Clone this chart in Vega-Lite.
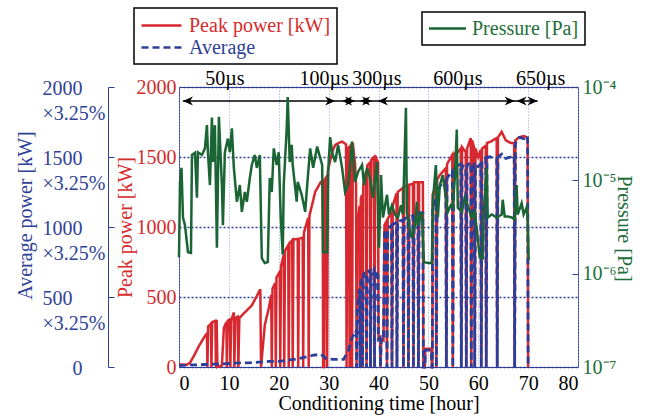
{
"$schema": "https://vega.github.io/schema/vega-lite/v6.json",
"width": 399, "height": 280,
"autosize": {"type": "none"},
"padding": {"left": 179, "top": 87, "right": 67, "bottom": 53},
"config": {
  "font": "Liberation Serif",
  "view": {"stroke": "#2c3e99", "strokeWidth": 1},
  "axis": {"labelFont": "Liberation Serif", "titleFont": "Liberation Serif", "labelFontSize": 20, "titleFontSize": 20, "titleFontWeight": "normal", "labelOverlap": false},
  "legend": {"labelFont": "Liberation Serif", "labelFontSize": 20}
},
"datasets": {
  "peak": [{"t":0,"kw":20},{"t":1.5,"kw":15},{"t":2.2,"kw":30},{"t":3,"kw":80},{"t":4,"kw":150},{"t":5,"kw":210},{"t":5.6,"kw":240},{"t":5.7,"kw":0},{"t":5.85,"kw":290},{"t":6.4,"kw":310},{"t":6.5,"kw":0},{"t":6.65,"kw":320},{"t":7.3,"kw":330},{"t":7.4,"kw":0},{"t":7.55,"kw":335},{"t":7.7,"kw":0},{"t":8.6,"kw":10},{"t":9,"kw":280},{"t":9.5,"kw":320},{"t":9.6,"kw":0},{"t":9.75,"kw":330},{"t":10.2,"kw":340},{"t":10.3,"kw":0},{"t":10.45,"kw":330},{"t":11,"kw":390},{"t":11.1,"kw":0},{"t":11.3,"kw":350},{"t":11.8,"kw":360},{"t":11.9,"kw":0},{"t":12.1,"kw":350},{"t":13.2,"kw":390},{"t":14.6,"kw":440},{"t":15.5,"kw":500},{"t":16.3,"kw":555},{"t":16.45,"kw":0},{"t":17.2,"kw":300},{"t":18,"kw":420},{"t":18.5,"kw":515},{"t":18.6,"kw":0},{"t":18.75,"kw":560},{"t":19.3,"kw":600},{"t":19.4,"kw":0},{"t":19.55,"kw":640},{"t":20.2,"kw":680},{"t":20.3,"kw":0},{"t":20.45,"kw":720},{"t":21,"kw":800},{"t":21.1,"kw":0},{"t":21.25,"kw":830},{"t":21.9,"kw":870},{"t":22,"kw":0},{"t":22.15,"kw":880},{"t":22.7,"kw":905},{"t":22.8,"kw":0},{"t":22.95,"kw":910},{"t":23.8,"kw":915},{"t":23.9,"kw":0},{"t":24.05,"kw":915},{"t":24.8,"kw":925},{"t":24.9,"kw":0},{"t":25.05,"kw":960},{"t":25.9,"kw":1065},{"t":26,"kw":0},{"t":26.15,"kw":1080},{"t":27.3,"kw":1250},{"t":28.4,"kw":1320},{"t":28.8,"kw":1330},{"t":28.9,"kw":0},{"t":29.1,"kw":0},{"t":29.25,"kw":1340},{"t":29.6,"kw":1360},{"t":29.7,"kw":0},{"t":29.85,"kw":1400},{"t":30.7,"kw":1535},{"t":31.3,"kw":1585},{"t":32,"kw":1600},{"t":32.7,"kw":1610},{"t":33.5,"kw":1590},{"t":33.6,"kw":0},{"t":33.75,"kw":1560},{"t":34.1,"kw":1570},{"t":34.2,"kw":0},{"t":34.35,"kw":1580},{"t":34.6,"kw":1590},{"t":34.7,"kw":0},{"t":34.85,"kw":1600},{"t":35.3,"kw":1450},{"t":35.5,"kw":1300},{"t":35.6,"kw":0},{"t":35.75,"kw":1000},{"t":36.2,"kw":1150},{"t":36.3,"kw":0},{"t":36.45,"kw":1200},{"t":36.7,"kw":1230},{"t":36.8,"kw":0},{"t":36.95,"kw":1300},{"t":37.5,"kw":1400},{"t":37.6,"kw":0},{"t":37.75,"kw":1440},{"t":38.3,"kw":1460},{"t":38.4,"kw":0},{"t":38.55,"kw":1480},{"t":39.1,"kw":1500},{"t":39.2,"kw":0},{"t":39.35,"kw":1510},{"t":39.9,"kw":1460},{"t":40,"kw":200},{"t":40.3,"kw":210},{"t":40.4,"kw":0},{"t":40.55,"kw":200},{"t":41,"kw":190},{"t":41.2,"kw":1015},{"t":41.6,"kw":1040},{"t":41.7,"kw":0},{"t":41.85,"kw":1060},{"t":42.6,"kw":1100},{"t":42.7,"kw":0},{"t":42.85,"kw":1150},{"t":43.6,"kw":1240},{"t":43.7,"kw":0},{"t":43.85,"kw":1250},{"t":44.9,"kw":1280},{"t":45,"kw":0},{"t":45.15,"kw":1290},{"t":45.9,"kw":1300},{"t":46,"kw":0},{"t":46.15,"kw":1300},{"t":46.9,"kw":1310},{"t":47,"kw":0},{"t":47.15,"kw":1320},{"t":47.9,"kw":1320},{"t":48,"kw":0},{"t":48.15,"kw":1320},{"t":48.9,"kw":1320},{"t":49,"kw":0},{"t":49.3,"kw":0},{"t":49.4,"kw":130},{"t":50.6,"kw":130},{"t":50.7,"kw":0},{"t":50.8,"kw":0},{"t":50.85,"kw":1230},{"t":51.5,"kw":1300},{"t":51.6,"kw":0},{"t":51.75,"kw":1340},{"t":52.5,"kw":1380},{"t":53.5,"kw":1420},{"t":53.6,"kw":0},{"t":53.75,"kw":1450},{"t":54.8,"kw":1515},{"t":54.9,"kw":0},{"t":55.05,"kw":1520},{"t":55.9,"kw":1535},{"t":56.5,"kw":1560},{"t":56.6,"kw":0},{"t":56.75,"kw":1570},{"t":57.5,"kw":1535},{"t":57.6,"kw":0},{"t":57.75,"kw":1560},{"t":58.5,"kw":1635},{"t":58.6,"kw":0},{"t":58.75,"kw":1620},{"t":59.2,"kw":1565},{"t":59.3,"kw":0},{"t":59.45,"kw":1560},{"t":60,"kw":1500},{"t":60.5,"kw":1550},{"t":60.6,"kw":0},{"t":60.75,"kw":1560},{"t":61.5,"kw":1580},{"t":61.6,"kw":0},{"t":61.75,"kw":1600},{"t":62.5,"kw":1610},{"t":63.7,"kw":1635},{"t":63.8,"kw":0},{"t":63.95,"kw":1640},{"t":64.7,"kw":1680},{"t":65.5,"kw":1620},{"t":66.5,"kw":1600},{"t":67.2,"kw":1600},{"t":67.3,"kw":0},{"t":67.45,"kw":1620},{"t":68.2,"kw":1640},{"t":69.2,"kw":1650},{"t":69.9,"kw":1635},{"t":70,"kw":0}],
  "avg": [{"t":0,"kw":10},{"t":2,"kw":15},{"t":4,"kw":15},{"t":6,"kw":20},{"t":8,"kw":20},{"t":10,"kw":25},{"t":12,"kw":30},{"t":14,"kw":30},{"t":16,"kw":35},{"t":18,"kw":40},{"t":20,"kw":40},{"t":22,"kw":50},{"t":24,"kw":60},{"t":26,"kw":75},{"t":27,"kw":85},{"t":28.5,"kw":90},{"t":29.5,"kw":60},{"t":31,"kw":55},{"t":33,"kw":55},{"t":34,"kw":120},{"t":34.8,"kw":220},{"t":35.5,"kw":260},{"t":35.6,"kw":0},{"t":35.75,"kw":420},{"t":36.2,"kw":560},{"t":36.3,"kw":0},{"t":36.45,"kw":600},{"t":36.7,"kw":640},{"t":36.8,"kw":0},{"t":36.95,"kw":660},{"t":37.5,"kw":680},{"t":37.6,"kw":0},{"t":37.75,"kw":680},{"t":38.3,"kw":690},{"t":38.4,"kw":0},{"t":38.55,"kw":680},{"t":39.1,"kw":700},{"t":39.2,"kw":0},{"t":39.35,"kw":690},{"t":39.9,"kw":660},{"t":40,"kw":200},{"t":40.3,"kw":210},{"t":40.4,"kw":0},{"t":40.55,"kw":200},{"t":41,"kw":190},{"t":41.2,"kw":960},{"t":41.6,"kw":980},{"t":41.7,"kw":0},{"t":41.85,"kw":990},{"t":42.6,"kw":1010},{"t":42.7,"kw":0},{"t":42.85,"kw":1020},{"t":43.6,"kw":1030},{"t":43.7,"kw":0},{"t":43.85,"kw":1040},{"t":44.9,"kw":1050},{"t":45,"kw":0},{"t":45.15,"kw":1060},{"t":45.9,"kw":1070},{"t":46,"kw":0},{"t":46.15,"kw":1070},{"t":46.9,"kw":1080},{"t":47,"kw":0},{"t":47.15,"kw":1090},{"t":47.9,"kw":1100},{"t":48,"kw":0},{"t":48.15,"kw":1100},{"t":48.9,"kw":1100},{"t":49,"kw":0},{"t":49.3,"kw":0},{"t":49.4,"kw":120},{"t":50.6,"kw":120},{"t":50.7,"kw":0},{"t":50.8,"kw":0},{"t":50.85,"kw":1150},{"t":51.5,"kw":1200},{"t":51.6,"kw":0},{"t":51.75,"kw":1250},{"t":52.5,"kw":1300},{"t":53.5,"kw":1330},{"t":53.6,"kw":0},{"t":53.75,"kw":1350},{"t":54.8,"kw":1400},{"t":54.9,"kw":0},{"t":55.05,"kw":1410},{"t":55.9,"kw":1440},{"t":56.5,"kw":1450},{"t":56.6,"kw":0},{"t":56.75,"kw":1440},{"t":57.5,"kw":1430},{"t":57.6,"kw":0},{"t":57.75,"kw":1440},{"t":58.5,"kw":1460},{"t":58.6,"kw":0},{"t":58.75,"kw":1460},{"t":59.2,"kw":1450},{"t":59.3,"kw":0},{"t":59.45,"kw":1440},{"t":60,"kw":1430},{"t":60.5,"kw":1450},{"t":60.6,"kw":0},{"t":60.75,"kw":1470},{"t":61.5,"kw":1490},{"t":61.6,"kw":0},{"t":61.75,"kw":1500},{"t":62.5,"kw":1500},{"t":63.7,"kw":1490},{"t":63.8,"kw":0},{"t":63.95,"kw":1500},{"t":64.7,"kw":1520},{"t":65.5,"kw":1490},{"t":66.5,"kw":1500},{"t":67.2,"kw":1510},{"t":67.3,"kw":0},{"t":67.45,"kw":1600},{"t":68.2,"kw":1640},{"t":69.2,"kw":1630},{"t":69.9,"kw":1650},{"t":70,"kw":0}],
  "pres": [{"t":0,"p":1.5e-6},{"t":0.2,"p":9.6e-6},{"t":0.5,"p":1.36e-5},{"t":0.8,"p":4.0e-6},{"t":1.2,"p":3.3e-6},{"t":1.8,"p":1.7e-6},{"t":2.4,"p":1.67e-6},{"t":2.6,"p":1.87e-5},{"t":3.2,"p":1.97e-5},{"t":3.6,"p":6.5e-6},{"t":3.8,"p":2.0e-5},{"t":4.6,"p":1.87e-5},{"t":5.2,"p":2.2e-5},{"t":5.6,"p":3.9e-5},{"t":5.8,"p":2.0e-5},{"t":6.2,"p":8.9e-6},{"t":6.6,"p":4.7e-5},{"t":6.8,"p":1.57e-5},{"t":7.2,"p":3.9e-5},{"t":7.6,"p":1.9e-6},{"t":8.0,"p":4.8e-5},{"t":8.6,"p":8.9e-6},{"t":8.8,"p":3.3e-6},{"t":9.2,"p":2.0e-5},{"t":9.8,"p":2.8e-5},{"t":10.2,"p":2.0e-5},{"t":10.6,"p":3.6e-5},{"t":11.0,"p":1.36e-5},{"t":11.6,"p":5.9e-6},{"t":12.2,"p":8.9e-6},{"t":12.6,"p":4.6e-6},{"t":13.2,"p":7.5e-6},{"t":13.6,"p":5.9e-6},{"t":14.2,"p":1.06e-5},{"t":14.6,"p":1.46e-5},{"t":15.2,"p":1.87e-5},{"t":15.6,"p":1.36e-5},{"t":16.2,"p":1.87e-5},{"t":16.6,"p":1.47e-6},{"t":17.2,"p":1.3e-6},{"t":17.8,"p":1.33e-6},{"t":18.2,"p":1.06e-5},{"t":18.6,"p":7.5e-6},{"t":19.0,"p":2.2e-5},{"t":19.6,"p":1.46e-5},{"t":20.0,"p":2.0e-5},{"t":20.4,"p":4.0e-6},{"t":20.8,"p":1.6e-6},{"t":21.0,"p":8.9e-6},{"t":21.6,"p":3.6e-5},{"t":21.8,"p":7.8e-5},{"t":22.2,"p":1.57e-5},{"t":22.6,"p":2.4e-5},{"t":22.8,"p":1.46e-5},{"t":23.6,"p":5.9e-6},{"t":23.8,"p":9.6e-6},{"t":24.6,"p":7.0e-6},{"t":25.3,"p":4.6e-6},{"t":25.7,"p":8.9e-6},{"t":26.3,"p":2.2e-5},{"t":26.9,"p":1.36e-5},{"t":27.7,"p":2.3e-5},{"t":28.3,"p":1.74e-5},{"t":28.7,"p":1.46e-5},{"t":28.9,"p":1.7e-6},{"t":29.7,"p":1.7e-6},{"t":29.9,"p":1.23e-5},{"t":30.3,"p":2.9e-5},{"t":30.7,"p":2.0e-5},{"t":31.3,"p":1.57e-5},{"t":31.9,"p":2.4e-5},{"t":32.7,"p":1.36e-5},{"t":33.3,"p":7.5e-6},{"t":33.9,"p":8.9e-6},{"t":34.3,"p":1.46e-5},{"t":34.7,"p":2.6e-5},{"t":35.3,"p":9.6e-6},{"t":35.9,"p":1.23e-5},{"t":36.7,"p":1.46e-5},{"t":37.1,"p":8.9e-6},{"t":37.7,"p":1.36e-5},{"t":38.3,"p":1.06e-5},{"t":38.9,"p":6.5e-6},{"t":39.7,"p":1.57e-5},{"t":40.1,"p":1.9e-6},{"t":40.5,"p":1.14e-5},{"t":40.9,"p":4.0e-6},{"t":41.7,"p":7.0e-6},{"t":42.1,"p":4.3e-6},{"t":42.7,"p":5.4e-6},{"t":43.3,"p":4.3e-6},{"t":43.9,"p":4.0e-6},{"t":44.5,"p":5.4e-6},{"t":44.9,"p":4.3e-6},{"t":45.5,"p":6.0e-5},{"t":45.7,"p":4.6e-6},{"t":46.1,"p":3.3e-6},{"t":46.7,"p":2.4e-6},{"t":47.3,"p":3.3e-6},{"t":47.7,"p":5.9e-6},{"t":47.9,"p":3.3e-6},{"t":48.7,"p":4.6e-6},{"t":49.1,"p":1.33e-6},{"t":49.9,"p":1.3e-6},{"t":50.7,"p":1.3e-6},{"t":50.9,"p":5.9e-6},{"t":51.5,"p":1.46e-5},{"t":51.9,"p":4.0e-6},{"t":52.3,"p":8.9e-6},{"t":52.9,"p":1.14e-5},{"t":53.5,"p":6.5e-6},{"t":53.9,"p":4.6e-6},{"t":54.5,"p":5.4e-6},{"t":54.9,"p":5.1e-6},{"t":55.3,"p":1.06e-5},{"t":55.7,"p":3.5e-5},{"t":55.9,"p":5.1e-6},{"t":56.7,"p":4.6e-6},{"t":57.3,"p":6.5e-6},{"t":57.9,"p":5.4e-6},{"t":58.7,"p":4.0e-6},{"t":59.3,"p":4.6e-6},{"t":59.9,"p":2.4e-6},{"t":60.3,"p":1.5e-6},{"t":60.9,"p":1.47e-6},{"t":61.1,"p":4.6e-6},{"t":61.7,"p":1.36e-5},{"t":61.9,"p":4.0e-6},{"t":62.7,"p":4.3e-6},{"t":63.7,"p":4.0e-6},{"t":64.7,"p":4.3e-6},{"t":64.9,"p":6.2e-6},{"t":65.3,"p":4.1e-6},{"t":65.9,"p":4.1e-6},{"t":66.7,"p":4.0e-6},{"t":67.3,"p":3.8e-6},{"t":67.7,"p":8.9e-6},{"t":67.9,"p":4.3e-6},{"t":68.7,"p":5.7e-6},{"t":69.1,"p":4.3e-6},{"t":69.7,"p":5.1e-6},{"t":69.9,"p":4.3e-6},{"t":70.1,"p":1.4e-6}],
  "arrowline": [{"t0":0.8,"t1":71.9}],
  "heads": [{"t":0.8,"dir":"L"},{"t":32.7,"dir":"L"},{"t":36.3,"dir":"L"},{"t":39.9,"dir":"L"},{"t":67.7,"dir":"L"},{"t":31.3,"dir":"R"},{"t":35.3,"dir":"R"},{"t":38.7,"dir":"R"},{"t":67.3,"dir":"R"},{"t":71.9,"dir":"R"}],
  "tags": [{"t":9.2,"txt":"50µs"},{"t":29.1,"txt":"100µs"},{"t":39.7,"txt":"300µs"},{"t":55.9,"txt":"600µs"},{"t":72.5,"txt":"650µs"}]
},
"layer": [
  {"layer": [
    {"data": {"name": "peak"},
     "mark": {"type": "line", "strokeWidth": 2.5},
     "encoding": {
       "x": {"field": "t", "type": "quantitative", "scale": {"domain": [0, 80]},
             "axis": {"values": [0,10,20,30,40,50,60,70,80], "format": "d", "grid": true, "gridColor": "#8fa0d4", "gridDash": [1,2], "gridWidth": 1, "ticks": false, "domain": false, "labelPadding": 6, "labelColor": "black", "title": "Conditioning time [hour]", "titleColor": "black", "titlePadding": 0}},
       "y": {"field": "kw", "type": "quantitative", "scale": {"domain": [0, 2000]},
             "axis": {"values": [0,500,1000,1500,2000], "format": "d", "grid": true, "gridColor": "#2c3e99", "gridDash": [2,2], "gridWidth": 1.6, "ticks": false, "domain": false, "labelColor": "#d42b2b", "labelPadding": 3, "title": "Peak power [kW]", "titleColor": "#d42b2b", "titleX": -54, "titleY": 140, "titleAngle": 270, "titleBaseline": "middle", "titleAlign": "center"}},
       "color": {"datum": "Peak power [kW]", "scale": {"domain": ["Peak power [kW]", "Average"], "range": ["#d7282f", "#2c3e99"]},
                 "legend": {"orient": "none", "legendX": -45, "legendY": -79, "title": null, "symbolType": "M-2,0H2", "symbolSize": 400, "symbolStrokeWidth": 2.5, "symbolOffset": 10, "strokeColor": "black", "fillColor": "white", "padding": 6, "rowPadding": 0, "labelOffset": 16,
                            "encode": {"labels": {"update": {"fill": {"signal": "datum.label === 'Average' ? '#2e4196' : '#d42b2b'"}}}, "legend": {"update": {"strokeWidth": {"value": 1.5}, "width": {"value": 235}}}}}},
       "strokeDash": {"datum": "Peak power [kW]", "scale": {"domain": ["Peak power [kW]", "Average"], "range": [[1,0],[7,4]]},
                 "legend": {"orient": "none", "legendX": -45, "legendY": -79, "title": null, "symbolType": "M-2,0H2", "symbolSize": 400, "symbolStrokeWidth": 2.5, "symbolOffset": 10, "strokeColor": "black", "fillColor": "white", "padding": 6, "rowPadding": 0, "labelOffset": 16}}
     }},
    {"data": {"name": "arrowline"},
     "mark": {"type": "rule", "color": "black", "strokeWidth": 1.5},
     "encoding": {"x": {"field": "t0", "type": "quantitative"}, "x2": {"field": "t1"}, "y": {"datum": 1900}}},
    {"data": {"name": "heads"},
     "mark": {"type": "point", "filled": true, "color": "black", "opacity": 1, "size": 100, "strokeWidth": 0},
     "encoding": {"x": {"field": "t", "type": "quantitative"}, "y": {"datum": 1900},
       "shape": {"field": "dir", "type": "nominal", "scale": {"domain": ["L", "R"], "range": ["M0,0L2,-0.9L1.4,0L2,0.9Z", "M0,0L-2,-0.9L-1.4,0L-2,0.9Z"]}, "legend": null}}},
    {"data": {"name": "tags"},
     "mark": {"type": "text", "fontSize": 20, "font": "Liberation Serif", "color": "black", "baseline": "alphabetic", "dy": -2},
     "encoding": {"x": {"field": "t", "type": "quantitative"}, "y": {"datum": 2000}, "text": {"field": "txt"}}}
  ]},
  {"data": {"name": "avg"},
   "mark": {"type": "line", "strokeWidth": 2.8},
   "encoding": {
     "x": {"field": "t", "type": "quantitative"},
     "y": {"field": "kw", "type": "quantitative", "scale": {"domain": [0, 2000]},
           "axis": {"orient": "left", "offset": 71, "values": [0,500,1000,1500,2000], "format": "d", "grid": false, "domain": true, "domainColor": "#2c3e99", "ticks": true, "tickColor": "#2c3e99", "tickSize": -6, "labelAlign": "left", "labelBaseline": "alphabetic", "labelOffset": 7,
                    "labelPadding": {"condition": {"test": "datum.value == 0", "value": 42}, "value": 72},
                    "labelLineHeight": 25, "labelColor": "#2e4196",
                    "labelExpr": "datum.value == 0 ? '0' : [datum.label, '×3.25%']",
                    "title": "Average power [kW]", "titleColor": "#2e4196", "titleX": -83, "titleY": 128, "titleAngle": 270, "titleBaseline": "middle", "titleAlign": "center"}},
     "color": {"datum": "Average"},
     "strokeDash": {"datum": "Average"}
   }},
  {"data": {"name": "pres"},
   "mark": {"type": "line", "strokeWidth": 2.5},
   "encoding": {
     "x": {"field": "t", "type": "quantitative"},
     "y": {"field": "p", "type": "quantitative", "scale": {"type": "log", "domain": [1e-7, 1e-4]},
           "axis": {"orient": "right", "values": [1e-7, 1e-6, 1e-5, 1e-4], "grid": false, "domain": false, "ticks": true, "tickColor": "#2c3e99", "tickSize": -6, "labelPadding": 10, "labelColor": "#1e6e3a",
                    "labelExpr": "datum.value > 5e-5 ? '10⁻⁴' : datum.value > 5e-6 ? '10⁻⁵' : datum.value > 5e-7 ? '10⁻⁶' : '10⁻⁷'",
                    "title": "Pressure [Pa]", "titleColor": "#1e6e3a", "titleX": 45, "titleY": 141, "titleAngle": 90, "titleBaseline": "middle", "titleAlign": "center"}},
     "stroke": {"datum": "Pressure [Pa]", "scale": {"range": ["#1b6535"]},
                "legend": {"orient": "none", "legendX": 243, "legendY": -75, "title": null, "symbolType": "M-2,0H2", "symbolSize": 342, "symbolStrokeWidth": 2.5, "symbolOffset": 9, "strokeColor": "black", "fillColor": "white", "padding": 6, "labelOffset": 14, "labelColor": "#1e6e3a",
                           "encode": {"legend": {"update": {"strokeWidth": {"value": 1.5}}}}}}
   }}
],
"resolve": {"scale": {"y": "independent"}}
}
